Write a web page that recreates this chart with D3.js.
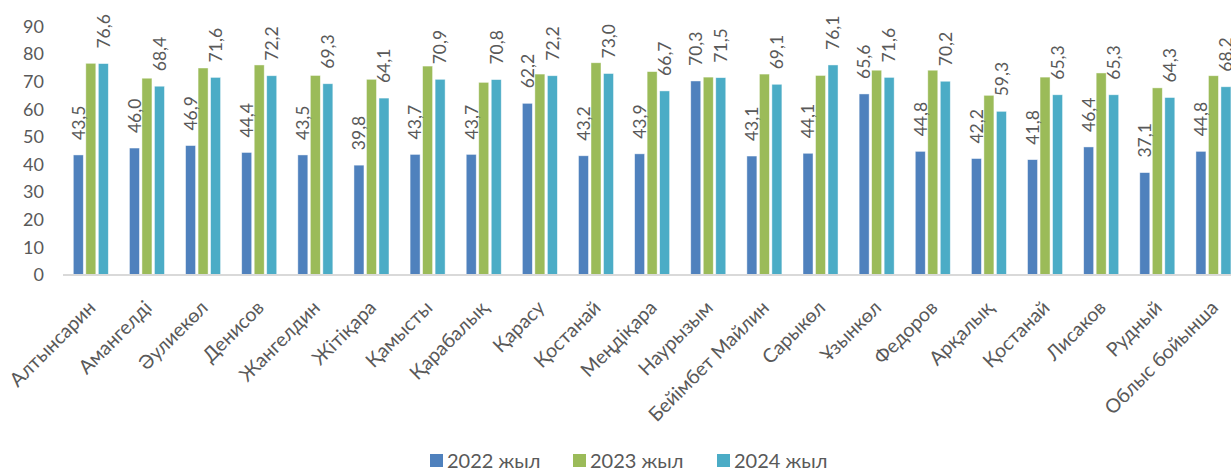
<!DOCTYPE html>
<html>
<head>
<meta charset="utf-8">
<script src="https://cdn.jsdelivr.net/npm/d3@7"></script>
<style>
  body { margin: 0; background: #fff; overflow: hidden; }
  svg text { font-family: Lato, "Open Sans", sans-serif; fill: #595959; }
</style>
</head>
<body>
<div class="plot"></div>
<script>
// DATA
var categories = ["Алтынсарин", "Амангелді", "Әулиекөл", "Денисов", "Жангелдин", "Жітіқара",
  "Қамысты", "Қарабалық", "Қарасу", "Қостанай", "Меңдіқара", "Наурызым", "Бейімбет Майлин",
  "Сарыкөл", "Ұзынкөл", "Федоров", "Арқалық", "Қостанай", "Лисаков", "Рудный", "Облыс бойынша"];
var seriesNames = ["2022 жыл", "2023 жыл", "2024 жыл"];
var v2022 = [43.5, 46.0, 46.9, 44.4, 43.5, 39.8, 43.7, 43.7, 62.2, 43.2, 43.9, 70.3, 43.1, 44.1, 65.6, 44.8, 42.2, 41.8, 46.4, 37.1, 44.8];
var v2023 = [76.7, 71.3, 75.0, 76.1, 72.3, 70.9, 75.7, 69.8, 72.8, 76.9, 73.7, 71.7, 72.8, 72.3, 74.2, 74.2, 65.1, 71.7, 73.2, 67.8, 72.2];
var v2024 = [76.6, 68.4, 71.6, 72.2, 69.3, 64.1, 70.9, 70.8, 72.2, 73.0, 66.7, 71.5, 69.1, 76.1, 71.6, 70.2, 59.3, 65.3, 65.3, 64.3, 68.2];
var yTicks = [0, 10, 20, 30, 40, 50, 60, 70, 80, 90];
var labelled = [true, false, true]; // only 2022 and 2024 have data labels

var colors = ["#4f81bd", "#9bbb59", "#4bacc6"];
var w = 1231, h = 470;

var series = [v2022, v2023, v2024];

var svg = d3.select(".plot").append("svg").attr("width", w).attr("height", h);

// SCALES
var x0 = d3.scaleBand()
  .domain(d3.range(categories.length))
  .range([62.75, 1241.5])
  .paddingInner(0.376)
  .paddingOuter(0.188);
var x1 = d3.scaleBand()
  .domain(d3.range(3))
  .range([0, x0.bandwidth()])
  .paddingInner(0.2);
var y = d3.scaleLinear().domain([0, 90]).range([275, 26.6]);

var fmt = function(v) { return d3.format(".1f")(v).replace(".", ","); };

// Y AXIS (labels only)
var yAxis = d3.axisLeft(y).tickValues(yTicks).tickSize(0).tickPadding(0);
var gy = svg.append("g").attr("transform", "translate(44,0)").call(yAxis);
gy.select(".domain").remove();
gy.selectAll("text").style("font-size", "18px").attr("fill", "#595959");

// BARS
var groups = svg.selectAll(".grp")
  .data(categories.map(function(c, i) { return i; }))
  .enter().append("g")
  .attr("class", "grp")
  .attr("transform", function(i) { return "translate(" + x0(i) + ",0)"; });

groups.selectAll("rect")
  .data(function(i) { return series.map(function(s, k) { return {k: k, v: s[i]}; }); })
  .enter().append("rect")
  .attr("x", function(d) { return x1(d.k); })
  .attr("width", x1.bandwidth())
  .attr("y", function(d) { return y(d.v); })
  .attr("height", function(d) { return y(0) - y(d.v); })
  .attr("fill", function(d) { return colors[d.k]; })
  .attr("stroke", "#ffffff")
  .attr("stroke-opacity", 0.6)
  .attr("stroke-width", 0.75);

// DATA LABELS
groups.selectAll(".lbl")
  .data(function(i) { return series.map(function(s, k) { return {k: k, v: s[i]}; }).filter(function(d) { return labelled[d.k]; }); })
  .enter().append("text")
  .attr("class", "lbl")
  .attr("transform", function(d) {
    return "translate(" + (x1(d.k) + x1.bandwidth() / 2) + "," + (y(d.v) - 15) + ") rotate(-90)";
  })
  .attr("dy", "0.36em")
  .style("font-size", "17.5px")
  .text(function(d) { return fmt(d.v); });

// X AXIS LINE
var xAxis = d3.axisBottom(x0).tickSize(0).tickFormat(function(i) { return categories[i]; });
var gx = svg.append("g").attr("transform", "translate(0,275)").call(xAxis);
gx.select(".domain").attr("stroke", "#d9d9d9").attr("stroke-width", 2)
  .attr("d", "M63,0H1241");
gx.selectAll(".tick text")
  .attr("text-anchor", "end")
  .attr("x", 0).attr("y", 0).attr("dy", 0)
  .attr("transform", "translate(6,34) rotate(-45)")
  .style("font-size", "19.5px")
  .attr("fill", "#595959");

// LEGEND
var legendX = [430, 573, 717];
var legend = svg.selectAll(".leg")
  .data(seriesNames)
  .enter().append("g")
  .attr("class", "leg")
  .attr("transform", function(d, i) { return "translate(" + legendX[i] + ",454)"; });
legend.append("rect").attr("width", 13).attr("height", 13)
  .attr("fill", function(d, i) { return colors[i]; });
legend.append("text").attr("x", 17).attr("y", 6.5).attr("dy", "0.35em")
  .style("font-size", "20px")
  .text(function(d) { return d; });
</script>
</body>
</html>
